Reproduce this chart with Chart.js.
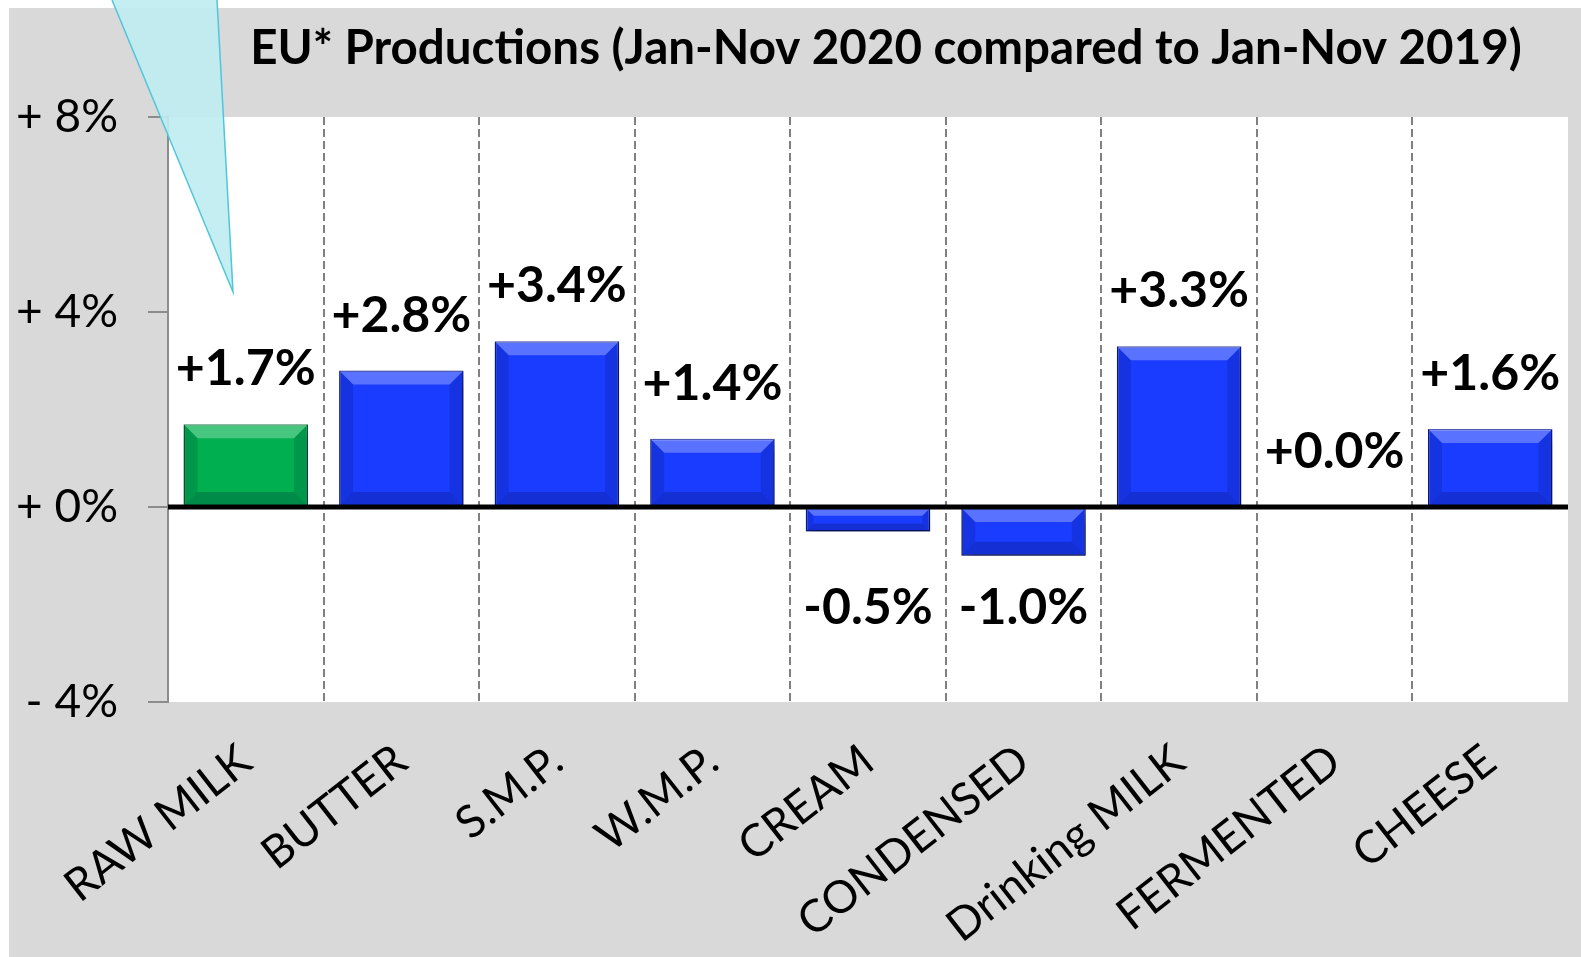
<!DOCTYPE html>
<html>
<head>
<meta charset="utf-8">
<script src="https://cdn.jsdelivr.net/npm/chart.js@4.4.1/dist/chart.umd.min.js"></script>
<style>
html, body { margin: 0; padding: 0; background: #fff; }
#wrap { position: relative; width: 1581px; height: 957px; }
</style>
</head>
<body>
<div id="wrap"><canvas id="myChart" width="1581" height="957"></canvas></div>
<script>
var categories = ['RAW MILK', 'BUTTER', 'S.M.P.', 'W.M.P.', 'CREAM', 'CONDENSED', 'Drinking MILK', 'FERMENTED', 'CHEESE'];
var changes = [1.7, 2.8, 3.4, 1.4, -0.5, -1.0, 3.3, 0.0, 1.6];
var barColors = ['#00b050', '#1a3cff', '#1a3cff', '#1a3cff', '#1a3cff', '#1a3cff', '#1a3cff', '#1a3cff', '#1a3cff'];
var barEdges = ['#006b30', '#0b1f9c', '#0b1f9c', '#0b1f9c', '#0b1f9c', '#0b1f9c', '#0b1f9c', '#0b1f9c', '#0b1f9c'];
var chartTitle = 'EU* Productions (Jan-Nov 2020 compared to Jan-Nov 2019)';

var ctx = document.getElementById('myChart').getContext('2d');

function fmtPct(v) {
    return (v >= 0 ? '+' : '') + v.toFixed(1) + '%';
}

// gray frame, white plot area and the title
var background = {
    id: 'background',
    beforeDraw: function (chart) {
        var c = chart.ctx, a = chart.chartArea;
        c.save();
        c.fillStyle = '#d9d9d9';
        c.fillRect(9, 8, chart.width - 9, chart.height - 8);
        c.fillStyle = '#ffffff';
        c.fillRect(a.left, a.top, a.right - a.left, a.bottom - a.top);
        c.fillStyle = '#000';
        c.font = 'bold 47.5px Lato';
        c.textAlign = 'center';
        c.textBaseline = 'middle';
        c.fillText(chartTitle, 886, 49);
        c.restore();
    }
};

// shadow under the bars, bevel on top, zero line and value labels
var bars3d = {
    id: 'bars3d',
    beforeDatasetsDraw: function (chart) {
        var c = chart.ctx;
        c.save();
        c.shadowColor = 'rgba(0,0,0,0.35)';
        c.shadowBlur = 12;
        c.shadowOffsetX = 4;
        c.shadowOffsetY = 8;
    },
    afterDatasetsDraw: function (chart) {
        var c = chart.ctx;
        c.restore();
        var meta = chart.getDatasetMeta(0);
        var yScale = chart.scales.y;
        var a = chart.chartArea;

        meta.data.forEach(function (bar) {
            var p = bar.getProps(['x', 'y', 'base', 'width'], true);
            var l = p.x - p.width / 2, r = p.x + p.width / 2;
            var t = Math.min(p.y, p.base), b = Math.max(p.y, p.base);
            var h = b - t;
            if (h < 2) return;
            var d = Math.min(14, h / 3);
            c.save();
            c.fillStyle = 'rgba(255,255,255,0.28)';
            c.beginPath();
            c.moveTo(l, t); c.lineTo(r, t); c.lineTo(r - d, t + d); c.lineTo(l + d, t + d);
            c.closePath(); c.fill();
            c.fillStyle = 'rgba(0,0,40,0.14)';
            c.beginPath();
            c.moveTo(l, t); c.lineTo(l + d, t + d); c.lineTo(l + d, b - d); c.lineTo(l, b);
            c.closePath(); c.fill();
            c.beginPath();
            c.moveTo(r, t); c.lineTo(r - d, t + d); c.lineTo(r - d, b - d); c.lineTo(r, b);
            c.closePath(); c.fill();
            c.fillStyle = 'rgba(0,0,40,0.2)';
            c.beginPath();
            c.moveTo(l, b); c.lineTo(l + d, b - d); c.lineTo(r - d, b - d); c.lineTo(r, b);
            c.closePath(); c.fill();
            c.restore();
        });

        var y0 = yScale.getPixelForValue(0);
        c.save();
        c.strokeStyle = '#000';
        c.lineWidth = 5;
        c.beginPath();
        c.moveTo(a.left, y0);
        c.lineTo(a.right, y0);
        c.stroke();

        var lowest = y0;
        meta.data.forEach(function (bar, i) {
            if (changes[i] < 0) lowest = Math.max(lowest, bar.y);
        });
        c.fillStyle = '#000';
        c.font = 'bold 50px Lato';
        c.textAlign = 'center';
        c.textBaseline = 'middle';
        meta.data.forEach(function (bar, i) {
            var v = changes[i];
            var ty = v < 0 ? lowest + 52 : bar.y - 55;
            c.fillText(fmtPct(v), bar.x, ty);
        });
        c.restore();
    },
    afterDraw: function (chart) {
        // speech-bubble pointer coming in from the top
        var c = chart.ctx;
        c.save();
        c.fillStyle = 'rgba(190,236,240,0.9)';
        c.strokeStyle = '#4fc6da';
        c.lineWidth = 1.5;
        c.beginPath();
        c.moveTo(112, 0);
        c.lineTo(233, 292);
        c.lineTo(217, 0);
        c.fill();
        c.stroke();
        c.restore();
    }
};

var data = {
    labels: categories,
    datasets: [{
        data: changes,
        backgroundColor: barColors,
        borderColor: barEdges,
        borderWidth: 1.5,
        barPercentage: 0.8,
        categoryPercentage: 1.0
    }]
};

var myChart = new Chart(ctx, {
    type: 'bar',
    data: data,
    options: {
        responsive: false,
        devicePixelRatio: 1,
        animation: false,
        layout: { padding: { top: 117, right: 13, left: 0, bottom: 0 } },
        plugins: {
            legend: { display: false },
            title: { display: false },
            tooltip: { enabled: false }
        },
        scales: {
            x: {
                afterFit: function (scale) { scale.height = 255; },
                grid: {
                    offset: true,
                    drawTicks: false,
                    lineWidth: 2,
                    color: function (c) {
                        return c.type === 'tick' && c.index > 0 ? '#808080' : 'rgba(0,0,0,0)';
                    }
                },
                border: { display: false, dash: [8, 4] },
                ticks: {
                    autoSkip: false,
                    minRotation: 38,
                    maxRotation: 38,
                    padding: 32,
                    color: '#000',
                    font: { family: 'Lato', size: 45 }
                }
            },
            y: {
                min: -4,
                max: 8,
                afterFit: function (scale) { scale.width = 168; },
                grid: {
                    drawOnChartArea: false,
                    drawTicks: true,
                    tickLength: 20,
                    lineWidth: 2,
                    color: '#8c8c8c'
                },
                border: { display: true, color: '#8c8c8c', width: 2 },
                ticks: {
                    stepSize: 4,
                    padding: 30,
                    color: '#000',
                    font: { family: 'Lato', size: 46 },
                    callback: function (v) {
                        return (v < 0 ? '- ' : '+ ') + Math.abs(v) + '%';
                    }
                }
            }
        }
    },
    plugins: [background, bars3d]
});
</script>
</body>
</html>
